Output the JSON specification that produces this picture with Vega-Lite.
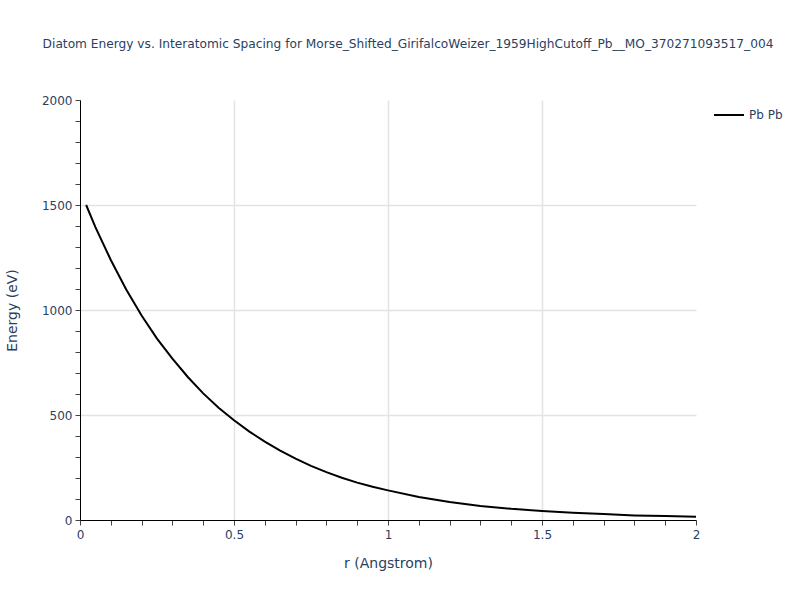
{
  "$schema": "https://vega.github.io/schema/vega-lite/v6.json",
  "autosize": "none",
  "width": 616,
  "height": 420,
  "padding": {"left": 80, "top": 100, "right": 104, "bottom": 80},
  "background": "white",
  "config": {
    "font": "DejaVu Sans",
    "view": {"stroke": null},
    "axis": {"labelColor": "#2a3f5f", "titleColor": "#2a3f5f", "labelFont": "DejaVu Sans", "titleFont": "DejaVu Sans", "labelFontSize": 12, "titleFontSize": 14, "titleFontWeight": "normal", "domainColor": "black", "tickColor": "#444", "tickSize": 5, "tickWidth": 1, "gridColor": "#e3e3e3", "gridWidth": 1.5}
  },
  "title": {
    "text": "Diatom Energy vs. Interatomic Spacing for Morse_Shifted_GirifalcoWeizer_1959HighCutoff_Pb__MO_370271093517_004",
    "fontSize": 12.2,
    "font": "DejaVu Sans",
    "fontWeight": "normal",
    "color": "#2a3f5f",
    "anchor": "middle",
    "dx": 20,
    "offset": 44
  },
  "data": {
    "values": [
      {"r": 0.02, "energy": 1500, "pair": "Pb Pb"},
      {"r": 0.05, "energy": 1395, "pair": "Pb Pb"},
      {"r": 0.1, "energy": 1238, "pair": "Pb Pb"},
      {"r": 0.15, "energy": 1098, "pair": "Pb Pb"},
      {"r": 0.2, "energy": 974, "pair": "Pb Pb"},
      {"r": 0.25, "energy": 864, "pair": "Pb Pb"},
      {"r": 0.3, "energy": 768, "pair": "Pb Pb"},
      {"r": 0.35, "energy": 681, "pair": "Pb Pb"},
      {"r": 0.4, "energy": 603, "pair": "Pb Pb"},
      {"r": 0.45, "energy": 535, "pair": "Pb Pb"},
      {"r": 0.5, "energy": 475, "pair": "Pb Pb"},
      {"r": 0.55, "energy": 421, "pair": "Pb Pb"},
      {"r": 0.6, "energy": 373, "pair": "Pb Pb"},
      {"r": 0.65, "energy": 330, "pair": "Pb Pb"},
      {"r": 0.7, "energy": 292, "pair": "Pb Pb"},
      {"r": 0.75, "energy": 258, "pair": "Pb Pb"},
      {"r": 0.8, "energy": 228, "pair": "Pb Pb"},
      {"r": 0.85, "energy": 201, "pair": "Pb Pb"},
      {"r": 0.9, "energy": 178, "pair": "Pb Pb"},
      {"r": 0.95, "energy": 158, "pair": "Pb Pb"},
      {"r": 1.0, "energy": 141, "pair": "Pb Pb"},
      {"r": 1.1, "energy": 110, "pair": "Pb Pb"},
      {"r": 1.2, "energy": 86, "pair": "Pb Pb"},
      {"r": 1.3, "energy": 67, "pair": "Pb Pb"},
      {"r": 1.4, "energy": 53, "pair": "Pb Pb"},
      {"r": 1.5, "energy": 43, "pair": "Pb Pb"},
      {"r": 1.6, "energy": 35, "pair": "Pb Pb"},
      {"r": 1.7, "energy": 28, "pair": "Pb Pb"},
      {"r": 1.8, "energy": 22, "pair": "Pb Pb"},
      {"r": 1.9, "energy": 19, "pair": "Pb Pb"},
      {"r": 2.0, "energy": 16, "pair": "Pb Pb"}
    ]
  },
  "mark": {"type": "line", "strokeWidth": 2, "clip": true},
  "encoding": {
    "x": {
      "field": "r",
      "type": "quantitative",
      "scale": {"domain": [0, 2], "nice": false, "zero": false},
      "axis": {
        "title": "r (Angstrom)",
        "values": [0, 0.1, 0.2, 0.3, 0.4, 0.5, 0.6, 0.7, 0.8, 0.9, 1, 1.1, 1.2, 1.3, 1.4, 1.5, 1.6, 1.7, 1.8, 1.9, 2],
        "format": "~g",
        "labelExpr": "abs(datum.value*2 - round(datum.value*2)) < 0.001 ? datum.label : ''",
        "gridOpacity": {"condition": {"test": "abs(datum.value*2 - round(datum.value*2)) < 0.001 && datum.value > 0.01 && datum.value < 1.99", "value": 1}, "value": 0},
        "labelPadding": 4,
        "titlePadding": 16,
        "labelFlush": false
      }
    },
    "y": {
      "field": "energy",
      "type": "quantitative",
      "scale": {"domain": [0, 2000], "nice": false},
      "axis": {
        "title": "Energy (eV)",
        "values": [0, 100, 200, 300, 400, 500, 600, 700, 800, 900, 1000, 1100, 1200, 1300, 1400, 1500, 1600, 1700, 1800, 1900, 2000],
        "labelExpr": "datum.value % 500 == 0 ? datum.label : ''",
        "format": "d",
        "gridOpacity": {"condition": {"test": "datum.value % 500 == 0 && datum.value > 0 && datum.value < 2000", "value": 1}, "value": 0},
        "labelPadding": 3,
        "titlePadding": 22,
        "labelFlush": false
      }
    },
    "color": {
      "field": "pair",
      "type": "nominal",
      "scale": {"range": ["black"]},
      "legend": {
        "title": null,
        "orient": "none",
        "legendX": 633,
        "legendY": -1,
        "symbolType": "stroke",
        "symbolSize": 900,
        "symbolStrokeWidth": 2,
        "labelFontSize": 12,
        "labelColor": "#2a3f5f",
        "labelFont": "DejaVu Sans"
      }
    }
  }
}
